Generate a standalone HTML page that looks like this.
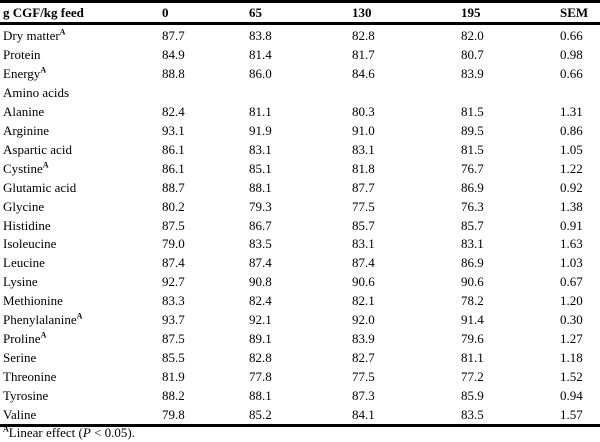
<!DOCTYPE html>
<html><head><meta charset="utf-8"><style>
body{margin:0;width:600px;height:442px;background:#fff;font-family:"Liberation Serif",serif;font-size:13px;color:#000;position:relative;overflow:hidden}
.rule{position:absolute;left:0;width:600px;background:#000}
.row{position:absolute;left:0;width:600px;height:19px;line-height:19px}
.row span{position:absolute;top:0}
.c0{left:3px}.c1{left:162px}.c2{left:249px}.c3{left:352px}.c4{left:461px}.c5{left:560px}
.hd{font-weight:bold}
sup{font-size:8px;line-height:0;font-weight:bold}
</style></head><body>
<div class="rule" style="top:0;height:3px"></div>
<div class="row hd" style="top:3px"><span class="c0">g CGF/kg feed</span><span class="c1">0</span><span class="c2">65</span><span class="c3">130</span><span class="c4">195</span><span class="c5">SEM</span></div>
<div class="rule" style="top:22px;height:3px"></div>
<div id="body"></div>
<div class="rule" style="top:424px;height:3px"></div>
<div class="row" style="top:423px"><span class="c0"><sup>A</sup>Linear effect (<i>P</i> &lt; 0.05).</span></div>
<script>
const names=["Dry matter|A","Protein","Energy|A","Amino acids","Alanine","Arginine","Aspartic acid","Cystine|A","Glutamic acid","Glycine","Histidine","Isoleucine","Leucine","Lysine","Methionine","Phenylalanine|A","Proline|A","Serine","Threonine","Tyrosine","Valine"];
const vals=[["87.7","83.8","82.8","82.0","0.66"],["84.9","81.4","81.7","80.7","0.98"],["88.8","86.0","84.6","83.9","0.66"],[],["82.4","81.1","80.3","81.5","1.31"],["93.1","91.9","91.0","89.5","0.86"],["86.1","83.1","83.1","81.5","1.05"],["86.1","85.1","81.8","76.7","1.22"],["88.7","88.1","87.7","86.9","0.92"],["80.2","79.3","77.5","76.3","1.38"],["87.5","86.7","85.7","85.7","0.91"],["79.0","83.5","83.1","83.1","1.63"],["87.4","87.4","87.4","86.9","1.03"],["92.7","90.8","90.6","90.6","0.67"],["83.3","82.4","82.1","78.2","1.20"],["93.7","92.1","92.0","91.4","0.30"],["87.5","89.1","83.9","79.6","1.27"],["85.5","82.8","82.7","81.1","1.18"],["81.9","77.8","77.5","77.2","1.52"],["88.2","88.1","87.3","85.9","0.94"],["79.8","85.2","84.1","83.5","1.57"]];
const b=document.getElementById('body');
names.forEach((n,i)=>{
 const r=document.createElement('div');r.className='row';r.style.top=(26+i*18.95)+'px';
 
 
 const p=n.split('|');
 let h='<span class="c0">'+p[0]+(p[1]?'<sup>A</sup>':'')+'</span>';
 vals[i].forEach((v,j)=>{h+='<span class="c'+(j+1)+'">'+v+'</span>';});
 r.innerHTML=h;b.appendChild(r);
});
</script>
</body></html>
